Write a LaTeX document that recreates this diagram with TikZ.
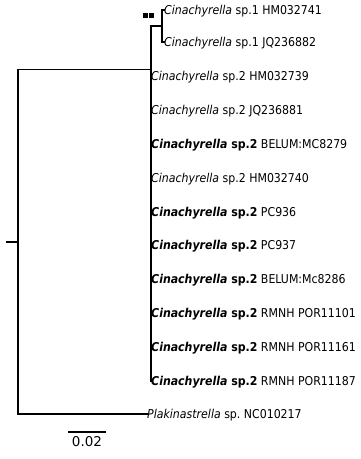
\documentclass[tikz,border=0pt]{standalone}
\usepackage{fontspec}
\setmainfont{DejaVu Sans Condensed}
\newfontfamily\barfont{DejaVu Sans}
\frenchspacing
\tikzset{
  leaf/.style={anchor=base west, inner sep=0pt, yshift=-4.4pt, font=\fontsize{12.2}{14}\selectfont},
  branch/.style={line width=1.2pt, line cap=rect}
}
\begin{document}
\begin{tikzpicture}[x=1pt,y=-1pt]
  \useasboundingbox (0,0) rectangle (360,459);
  \draw
    (7,242) coordinate (0)
    (18,242) coordinate (root)
    (151,69.5) coordinate (cin)
    (162,26) coordinate (sp1)
    (164,10) coordinate (1) node[leaf] (t1) {\emph{Cinachyrella} sp.1 HM032741}
    (164,42) coordinate (2) node[leaf] (t2) {\emph{Cinachyrella} sp.1 JQ236882}
    (151,76) coordinate (3) node[leaf] (t3) {\emph{Cinachyrella} sp.2 HM032739}
    (151,110) coordinate (4) node[leaf] (t4) {\emph{Cinachyrella} sp.2 JQ236881}
    (151,144) coordinate (5) node[leaf] (t5) {\textbf{\emph{Cinachyrella} sp.2} BELUM:MC8279}
    (151,178) coordinate (6) node[leaf] (t6) {\emph{Cinachyrella} sp.2 HM032740}
    (151,212) coordinate (7) node[leaf] (t7) {\textbf{\emph{Cinachyrella} sp.2} PC936}
    (151,245) coordinate (8) node[leaf] (t8) {\textbf{\emph{Cinachyrella} sp.2} PC937}
    (151,279) coordinate (9) node[leaf] (t9) {\textbf{\emph{Cinachyrella} sp.2} BELUM:Mc8286}
    (151,313) coordinate (10) node[leaf] (t10) {\textbf{\emph{Cinachyrella} sp.2} RMNH POR11101}
    (151,347) coordinate (11) node[leaf] (t11) {\textbf{\emph{Cinachyrella} sp.2} RMNH POR11161}
    (151,381) coordinate (12) node[leaf] (t12) {\textbf{\emph{Cinachyrella} sp.2} RMNH POR11187}
    (147,414) coordinate (13) node[leaf] (t13) {\emph{Plakinastrella} sp. NC010217};
  \begin{scope}[branch]
    \draw (0) -- (root);
    \draw (root) |- (cin);
    \draw (root) |- (13);
    \draw (cin) |- (sp1);
    \draw (cin) |- (12);
    \draw (sp1) |- (1);
    \draw (sp1) |- (2);
  \end{scope}
  % support marks
  \fill (142.5,12.5) rectangle (147.5,17.5);
  \fill (148.5,12.5) rectangle (153.5,17.5);
  % scale bar
  \draw[branch, line cap=butt] (68,432) coordinate (s0) -- (106,432) coordinate (s1);
  \node[anchor=base, inner sep=0pt, font=\barfont\fontsize{13.5}{15}\selectfont] (scale) at (87,446.5) {0.02};
\end{tikzpicture}
\end{document}
